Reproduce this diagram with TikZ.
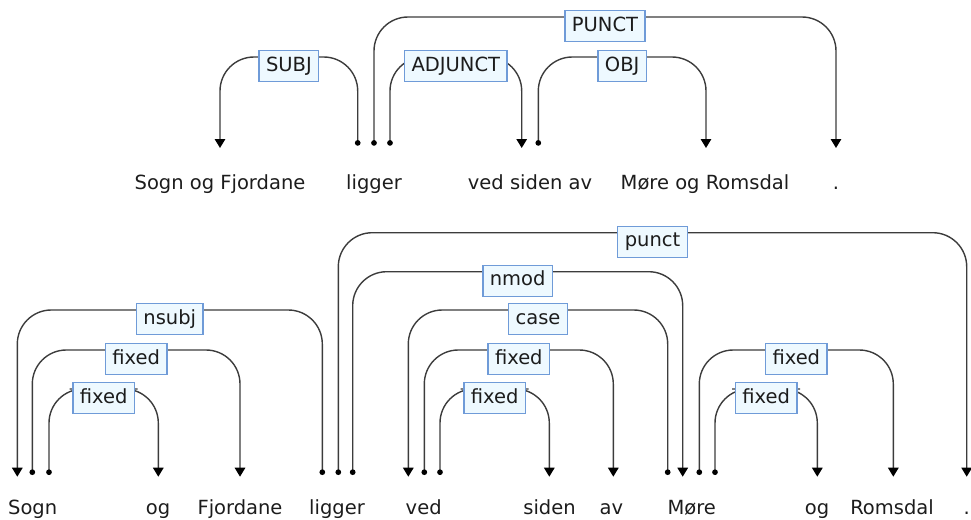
\documentclass[tikz,border=0pt]{standalone}
\usepackage{fontspec}
\setmainfont{DejaVu Sans}
\usetikzlibrary{arrows.meta}
\definecolor{edgecol}{HTML}{3C3C3C}
\definecolor{boxline}{HTML}{6F9BD8}
\definecolor{boxfill}{HTML}{EEF9FF}
\definecolor{wordcol}{HTML}{1C1C1C}
\tikzset{
  word/.style={anchor=base, inner sep=0pt, text=wordcol, font=\fontsize{19.5}{22}\selectfont},
  rel/.style={draw=boxline, fill=boxfill, line width=1.3pt, text=wordcol,
    font=\fontsize{19.5}{22}\selectfont, inner xsep=7pt, inner ysep=0pt,
    minimum height=31pt, text height=14.5pt, text depth=4pt},
  dep/.style={draw=edgecol, line width=1.4pt, rounded corners=34pt,
    {Circle[length=5.6pt,color=black]}-{Triangle[width=10.5pt,length=9pt,color=black]}},
  labelbelow/.style={yshift=-9pt},
}
\begin{document}
\begin{tikzpicture}[x=1pt,y=-1pt]
\useasboundingbox (0,0) rectangle (971,519);

% ---------- upper analysis ----------
\node[word] (t1) at (220,189) {Sogn og Fjordane};
\node[word] (t2) at (374,189) {ligger};
\node[word] (t3) at (530,189) {ved siden av};
\node[word] (t4) at (705,189) {Møre og Romsdal};
\node[word] (t5) at (836,189) {.};

% attachment points above the words
\coordinate (t1a) at (220,148);
\coordinate (t2h1) at (357.7,145.7);
\coordinate (t2h2) at (374,145.7);
\coordinate (t2h3) at (390,145.7);
\coordinate (t3a) at (521.7,148);
\coordinate (t3h) at (538.3,145.7);
\coordinate (t4a) at (706,148);
\coordinate (t5a) at (836,148);

% arc tops
\coordinate (subjtop) at (288.9,57);
\coordinate (puncttop) at (605,17);
\coordinate (adjtop) at (455.8,57);
\coordinate (objtop) at (622.2,57);

\draw[dep] (t2h1) |- (subjtop) -| (t1a);
\draw[dep] (t2h2) |- (puncttop) -| (t5a);
\draw[dep] (t2h3) |- (adjtop) -| (t3a);
\draw[dep] (t3h) |- (objtop) -| (t4a);

\node[rel] (lsubj) at ([labelbelow]subjtop) {SUBJ};
\node[rel] (lpunct) at ([labelbelow]puncttop) {PUNCT};
\node[rel] (ladj) at ([labelbelow]adjtop) {ADJUNCT};
\node[rel] (lobj) at ([labelbelow]objtop) {OBJ};

% ---------- lower analysis ----------
\node[word] (b1) at (32.7,514.5) {Sogn};
\node[word] (b2) at (158,514.5) {og};
\node[word] (b3) at (240,514.5) {Fjordane};
\node[word] (b4) at (337,514.5) {ligger};
\node[word] (b5) at (423.7,514.5) {ved};
\node[word] (b6) at (549.5,514.5) {siden};
\node[word] (b7) at (611.3,514.5) {av};
\node[word] (b8) at (691.7,514.5) {Møre};
\node[word] (b9) at (817,514.5) {og};
\node[word] (b10) at (892,514.5) {Romsdal};
\node[word] (b11) at (966.7,514.5) {.};

% attachment points above the words
\coordinate (b1a) at (17.3,476.7);
\coordinate (b1h1) at (32.3,475);
\coordinate (b1h2) at (49,475);
\coordinate (b2a) at (158.3,476.7);
\coordinate (b3a) at (240,476.7);
\coordinate (b4h1) at (322.3,475);
\coordinate (b4h2) at (338.3,475);
\coordinate (b4h3) at (352.7,475);
\coordinate (b5a) at (408.3,476.7);
\coordinate (b5h1) at (424.3,475);
\coordinate (b5h2) at (440,475);
\coordinate (b6a) at (549.3,476.7);
\coordinate (b7a) at (613.3,476.7);
\coordinate (b8h1) at (667.7,475);
\coordinate (b8a) at (682.7,476.7);
\coordinate (b8h2) at (699.3,475);
\coordinate (b8h3) at (715,475);
\coordinate (b9a) at (817.3,476.7);
\coordinate (b10a) at (893.3,476.7);
\coordinate (b11a) at (966.7,476.7);

% arc tops
\coordinate (nsubjtop) at (169.8,310);
\coordinate (fixAtop) at (136.2,350);
\coordinate (fixBtop) at (103.7,389);
\coordinate (punct2top) at (652.5,232.7);
\coordinate (nmodtop) at (517.7,271.7);
\coordinate (casetop) at (538,310);
\coordinate (fixCtop) at (518.8,350);
\coordinate (fixDtop) at (494.7,389);
\coordinate (fixEtop) at (796.3,350);
\coordinate (fixFtop) at (766.2,389);

\draw[dep] (b4h1) |- (nsubjtop) -| (b1a);
\draw[dep] (b1h1) |- (fixAtop) -| (b3a);
\draw[dep] (b1h2) |- (fixBtop) -| (b2a);
\draw[dep] (b4h2) |- (punct2top) -| (b11a);
\draw[dep] (b4h3) |- (nmodtop) -| (b8a);
\draw[dep] (b8h1) |- (casetop) -| (b5a);
\draw[dep] (b5h1) |- (fixCtop) -| (b7a);
\draw[dep] (b5h2) |- (fixDtop) -| (b6a);
\draw[dep] (b8h2) |- (fixEtop) -| (b10a);
\draw[dep] (b8h3) |- (fixFtop) -| (b9a);

\node[rel] (lnsubj) at ([labelbelow]nsubjtop) {nsubj};
\node[rel] (lfixA) at ([labelbelow]fixAtop) {fixed};
\node[rel] (lfixB) at ([labelbelow]fixBtop) {fixed};
\node[rel] (lpunct2) at ([labelbelow]punct2top) {punct};
\node[rel] (lnmod) at ([labelbelow]nmodtop) {nmod};
\node[rel] (lcase) at ([labelbelow]casetop) {case};
\node[rel] (lfixC) at ([labelbelow]fixCtop) {fixed};
\node[rel] (lfixD) at ([labelbelow]fixDtop) {fixed};
\node[rel] (lfixE) at ([labelbelow]fixEtop) {fixed};
\node[rel] (lfixF) at ([labelbelow]fixFtop) {fixed};
\end{tikzpicture}
\end{document}
